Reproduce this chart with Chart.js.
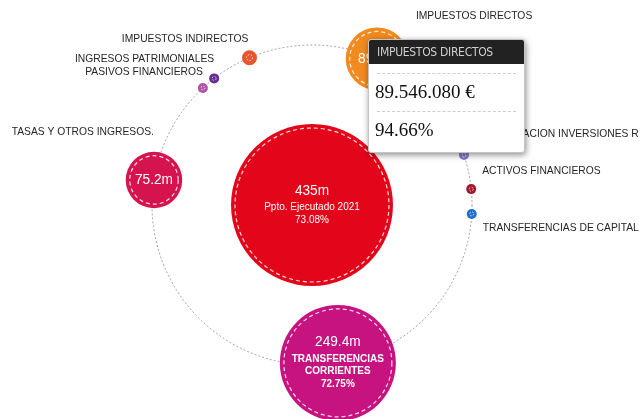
<!DOCTYPE html>
<html>
<head>
<meta charset="utf-8">
<script src="https://cdn.jsdelivr.net/npm/chart.js@4.4.1/dist/chart.umd.min.js"></script>
<style>
  html, body { margin: 0; padding: 0; background: #fff; }
  #wrap { position: relative; width: 640px; height: 419px; overflow: hidden; }
  #tip {
    position: absolute; width: 155px; background: #fff; border: 1px solid #c4c4c4;
    border-radius: 3px; box-shadow: 1px 2px 6px rgba(0,0,0,.45); pointer-events: none;
    opacity: 0; padding-bottom: 4px;
  }
  #tip .hd {
    background: #222; color: #cfcfcf; height: 24px; line-height: 25px; padding-left: 8px;
    font-family: 'DejaVu Sans', sans-serif; font-stretch: condensed; font-size: 12px;
    letter-spacing: -0.3px; border-radius: 2px 2px 0 0;
  }
  #tip .sep { margin: 0 8px; border-top: 1px dashed #cfcfcf; }
  #tip .sep.first { margin-top: 9px; }
  #tip .sep.second { margin-top: 1px; }
  #tip .val {
    font: 19px 'Liberation Serif', 'DejaVu Serif', serif; color: #111;
    height: 36px; line-height: 36px; padding-left: 6px;
  }
</style>
</head>
<body>
<div id="wrap">
  <canvas id="budgetChart" width="640" height="419"></canvas>
  <div id="tip">
    <div class="hd" id="tipTitle"></div>
    <div class="sep first"></div>
    <div class="val" id="tipAmount"></div>
    <div class="sep second"></div>
    <div class="val" id="tipPct"></div>
  </div>
</div>
<script>
  // Ingresos 2021 por capítulo (euros)
  const chapters = [
    'IMPUESTOS DIRECTOS',
    'IMPUESTOS INDIRECTOS',
    'INGRESOS PATRIMONIALES',
    'PASIVOS FINANCIEROS',
    'TASAS Y OTROS INGRESOS.',
    'TRANSFERENCIAS CORRIENTES',
    'TRANSFERENCIAS DE CAPITAL',
    'ACTIVOS FINANCIEROS',
    'ENAJENACION INVERSIONES R'
  ];
  const amounts = [89546080, 8214000, 4105000, 3500000, 75183000, 249412000, 1430000, 600000, 3010000];
  const executedPct = [94.66, null, null, null, null, 72.75, null, null, null];
  const totalLabel = 'Ppto. Ejecutado 2021';
  const totalPct = 73.08;

  const colors = ['#f18a1f', '#e8552c', '#6b2c91', '#b34fa8', '#d5134f', '#c6137f', '#1f6fd1', '#a5182c', '#8d7bc9'];
  const totalColor = '#e3061a';

  // posición en la órbita (grados) y desplazamiento de las etiquetas
  const orbitCenter = [312, 205];
  const orbitRadius = 160;
  const angles = [-66, -113, -127.7, -133, -171, 80.7, 3.2, -5.7, -18.2];
  const labelOffsets = [
    [97, -43, 'center'], [-1, -19, 'right'], [0, -19, 'right'], [0, -16, 'right'],
    [0, -48, 'right'], null, [11, 14, 'left'], [11, -18, 'left'], [18, -21, 'left']
  ];

  const total = amounts.reduce((a, b) => a + b, 0);
  const radiusFor = v => Math.max(5, 58 * Math.pow(v / 249412000, 0.6));
  const fmtM = v => parseFloat((v / 1e6).toFixed(1)) + 'm';

  const orbitPoints = amounts.map((v, i) => {
    const a = angles[i] * Math.PI / 180;
    return { x: orbitCenter[0] + orbitRadius * Math.cos(a), y: orbitCenter[1] + orbitRadius * Math.sin(a), r: radiusFor(v) };
  });

  const orbitPlugin = {
    id: 'orbit',
    beforeDatasetsDraw(chart) {
      const { ctx, scales: { x, y } } = chart;
      const px = x.getPixelForValue(orbitCenter[0]);
      const py = y.getPixelForValue(orbitCenter[1]);
      const pr = x.getPixelForValue(orbitCenter[0] + orbitRadius) - px;
      ctx.save();
      ctx.setLineDash([2, 2]);
      ctx.strokeStyle = '#8a8a8a';
      ctx.lineWidth = 0.8;
      ctx.beginPath();
      ctx.arc(px, py, pr, 0, Math.PI * 2);
      ctx.stroke();
      ctx.restore();
    }
  };

  const bubbleText = {
    id: 'bubbleText',
    afterDatasetsDraw(chart) {
      const ctx = chart.ctx;
      const drawBubble = (el, lines, bold) => {
        const r = el.options.radius;
        ctx.save();
        ctx.strokeStyle = 'rgba(255,255,255,0.85)';
        if (r >= 10) {
          ctx.setLineDash([4, 3]);
          ctx.lineWidth = 1.2;
          ctx.beginPath();
          ctx.arc(el.x, el.y, r - 4, 0, Math.PI * 2);
          ctx.stroke();
        } else {
          ctx.setLineDash([1.5, 1.5]);
          ctx.lineWidth = 0.9;
          ctx.beginPath();
          ctx.arc(el.x, el.y, r * 0.4, 0, Math.PI * 2);
          ctx.stroke();
        }
        ctx.restore();
        if (!lines.length) return;
        const offs = lines.map((l, k) => k === 0 ? 0 : 17 + (k - 1) * 12.5);
        const mid = offs[offs.length - 1] / 2;
        ctx.save();
        ctx.fillStyle = '#fff';
        ctx.textAlign = 'center';
        ctx.textBaseline = 'middle';
        lines.forEach((l, k) => {
          const ty = el.y - mid + offs[k];
          if (k === 0) {
            // cifra en letra estrecha
            ctx.save();
            ctx.translate(el.x, ty);
            ctx.scale(0.88, 1);
            ctx.font = "15.5px 'Liberation Sans', Arial, sans-serif";
            ctx.fillText(l, 0, 0);
            ctx.restore();
          } else {
            ctx.font = (bold ? 'bold ' : '') + "10px 'Liberation Sans', Arial, sans-serif";
            ctx.fillText(l, el.x, ty);
          }
        });
        ctx.restore();
      };

      const centre = chart.getDatasetMeta(0).data[0];
      drawBubble(centre, [fmtM(total), totalLabel, totalPct.toFixed(2) + '%'], false);

      chart.getDatasetMeta(1).data.forEach((el, i) => {
        const r = el.options.radius;
        let lines = [];
        if (r >= 45) lines = [fmtM(amounts[i]), ...chapters[i].split(' '), executedPct[i].toFixed(2) + '%'];
        else if (r >= 20) lines = [fmtM(amounts[i])];
        drawBubble(el, lines, true);

        const off = labelOffsets[i];
        if (!off) return;
        ctx.save();
        ctx.fillStyle = '#262626';
        ctx.font = "10.3px 'Liberation Sans', Arial, sans-serif";
        ctx.textAlign = off[2];
        ctx.textBaseline = 'middle';
        ctx.fillText(chapters[i], el.x + off[0], el.y + off[1]);
        ctx.restore();
      });
    }
  };

  function externalTooltip(context) {
    const tip = document.getElementById('tip');
    const model = context.tooltip;
    if (!model.opacity || !model.dataPoints || !model.dataPoints.length) {
      tip.style.opacity = 0;
      return;
    }
    const i = model.dataPoints[0].dataIndex;
    document.getElementById('tipTitle').textContent = chapters[i];
    document.getElementById('tipAmount').textContent = amounts[i].toLocaleString('de-DE') + ' €';
    document.getElementById('tipPct').textContent = executedPct[i].toFixed(2) + '%';
    tip.style.left = (model.caretX - 9) + 'px';
    tip.style.top = (model.caretY - 20) + 'px';
    tip.style.opacity = 1;
  }

  const ctx = document.getElementById('budgetChart').getContext('2d');
  const budgetChart = new Chart(ctx, {
    type: 'bubble',
    data: {
      datasets: [{
        label: totalLabel,
        data: [{ x: orbitCenter[0], y: orbitCenter[1], r: radiusFor(total) }],
        backgroundColor: totalColor,
        borderWidth: 0,
        hoverRadius: 0,
        clip: false
      }, {
        label: 'Capítulos',
        data: orbitPoints,
        backgroundColor: colors,
        borderWidth: 0,
        hoverRadius: 0,
        clip: false
      }]
    },
    options: {
      responsive: false,
      animation: false,
      events: [],
      layout: { padding: 0, autoPadding: false },
      scales: {
        x: { type: 'linear', min: 0, max: 640, display: false },
        y: { type: 'linear', min: 0, max: 419, reverse: true, display: false }
      },
      plugins: {
        legend: { display: false },
        tooltip: { enabled: false, external: externalTooltip }
      }
    },
    plugins: [orbitPlugin, bubbleText]
  });

  budgetChart.tooltip.setActiveElements([{ datasetIndex: 1, index: 0 }], { x: 0, y: 0 });
  budgetChart.draw();
</script>
</body>
</html>
